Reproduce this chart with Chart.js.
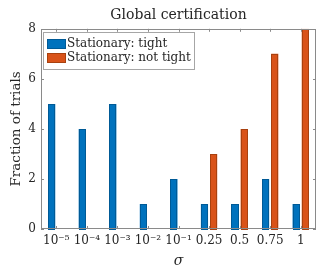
<!DOCTYPE html>
<html>
<head>
<meta charset="utf-8">
<script src="https://cdn.jsdelivr.net/npm/chart.js@4.4.1/dist/chart.umd.min.js"></script>
<style>
html,body{margin:0;padding:0;background:#fff;}
#wrap{width:331px;height:270px;position:relative;}
</style>
</head>
<body>
<div id="wrap"><canvas id="c" width="331" height="270"></canvas></div>
<script>
const categories = ["10⁻⁵","10⁻⁴","10⁻³","10⁻²","10⁻¹","0.25","0.5","0.75","1"];
const tightValues = [5,4,5,1,2,1,1,2,1];
const notTightValues = [0,0,0,0,0,3,4,7,8];
const yTicks = [0,2,4,6,8];
const seriesNames = ["Stationary: tight","Stationary: not tight"];

const FONT = "'DejaVu Serif',serif";
const AXIS_COLOR = "#8a8a8a";
const TEXT_COLOR = "#262626";
const FILLS = ['#0072BD', '#D95319'];
const EDGES = ['#005a96', '#a8410f'];

const boxPlugin = {
  id: 'boxPlugin',
  afterDatasetsDraw(chart){
    const ctx = chart.ctx, a = chart.chartArea;
    const xs = chart.scales.x, ys = chart.scales.y;
    ctx.save();
    // crisp bar edges from the library's bar elements
    chart.data.datasets.forEach((d, di)=>{
      const meta = chart.getDatasetMeta(di);
      meta.data.forEach(el=>{
        const p = el.getProps(['x','y','base','width'], true);
        if (Math.abs(p.base - p.y) < 0.5) return;
        const l = Math.round(p.x - p.width/2), r = Math.round(p.x + p.width/2);
        const t = Math.round(p.y), b = Math.round(p.base);
        ctx.fillStyle = d.backgroundColor;
        ctx.fillRect(l, t, r-l, b-t);
        ctx.strokeStyle = EDGES[di];
        ctx.lineWidth = 1;
        ctx.strokeRect(l+0.5, t+0.5, r-l-1, b-t);
      });
    });
    ctx.strokeStyle = AXIS_COLOR;
    ctx.lineWidth = 1;
    ctx.beginPath();
    yTicks.forEach(v=>{
      const y = Math.round(ys.getPixelForValue(v))+0.5;
      ctx.moveTo(a.left, y); ctx.lineTo(a.left+3, y);
      ctx.moveTo(a.right, y); ctx.lineTo(a.right-3, y);
    });
    categories.forEach((c,i)=>{
      const x = Math.round(xs.getPixelForTick(i))+0.5;
      ctx.moveTo(x, a.top); ctx.lineTo(x, a.top+3);
      ctx.moveTo(x, a.bottom); ctx.lineTo(x, a.bottom-3);
    });
    ctx.stroke();
    ctx.strokeRect(Math.round(a.left)+0.5, Math.round(a.top)+0.5, Math.round(a.right-a.left)-1, Math.round(a.bottom-a.top)-1);

    // legend inside the plot area (north-west)
    ctx.font = "12px " + FONT;
    ctx.textBaseline = 'middle';
    ctx.textAlign = 'left';
    const ds = chart.data.datasets;
    const left = Math.round(a.left) + 2, top = Math.round(a.top) + 3;
    const boxW = 19, boxH = 10, rowH = 14.7, padX = 3;
    let maxW = 0;
    ds.forEach(d=>{ maxW = Math.max(maxW, ctx.measureText(d.label).width); });
    const w = padX + boxW + 1 + maxW + 4;
    const h = 37;
    ctx.fillStyle = '#fff';
    ctx.fillRect(left, top, w, h);
    ctx.strokeStyle = '#a6a6a6';
    ctx.strokeRect(left+0.5, top+0.5, Math.round(w), h);
    ds.forEach((d,i)=>{
      const cy = top + 11.5 + rowH*i;
      const by = Math.round(cy - boxH/2);
      ctx.fillStyle = d.backgroundColor;
      ctx.fillRect(left+padX+1, by, boxW, boxH);
      ctx.strokeStyle = EDGES[i];
      ctx.strokeRect(left+padX+1+0.5, by+0.5, boxW-1, boxH-1);
      ctx.fillStyle = TEXT_COLOR;
      ctx.fillText(d.label, left+padX+boxW+2, cy);
    });
    ctx.restore();
  }
};

new Chart(document.getElementById('c'), {
  type: 'bar',
  data: {
    labels: categories,
    datasets: [
      {label: seriesNames[0], data: tightValues, backgroundColor: FILLS[0], borderWidth: 0, categoryPercentage: 0.6, barPercentage: 0.78},
      {label: seriesNames[1], data: notTightValues, backgroundColor: FILLS[1], borderWidth: 0, categoryPercentage: 0.6, barPercentage: 0.78}
    ]
  },
  options: {
    responsive: false,
    animation: false,
    devicePixelRatio: 1,
    layout: {padding: {left: 0, right: 15, top: 0, bottom: 0}},
    plugins: {
      title: {display: true, fullSize: false, text: 'Global certification', color: TEXT_COLOR, font: {family: FONT, size: 14, weight: 'normal', lineHeight: 1.2}, padding: {top: 7, bottom: 5}},
      legend: {display: false},
      tooltip: {enabled: false}
    },
    scales: {
      x: {
        grid: {display: false, drawTicks: false},
        border: {display: false},
        ticks: {color: TEXT_COLOR, font: {family: FONT, size: 12}, maxRotation: 0, autoSkip: false, padding: 5},
        title: {display: true, text: 'σ', color: TEXT_COLOR, font: {family: FONT, size: 14, style: 'italic'}, padding: {top: 3, bottom: 0}},
        afterFit(s){ s.height = 41; }
      },
      y: {
        min: 0, max: 8,
        grid: {display: false, drawTicks: false},
        border: {display: false},
        ticks: {stepSize: 2, color: TEXT_COLOR, font: {family: FONT, size: 12}, padding: 5,
          callback: (v)=> yTicks.includes(v) ? String(v) : ''},
        title: {display: true, text: 'Fraction of trials', color: TEXT_COLOR, font: {family: FONT, size: 13.5}, padding: {top: 8, bottom: 2}},
        afterFit(s){ s.width = 41; }
      }
    }
  },
  plugins: [boxPlugin]
});
</script>
</body>
</html>
